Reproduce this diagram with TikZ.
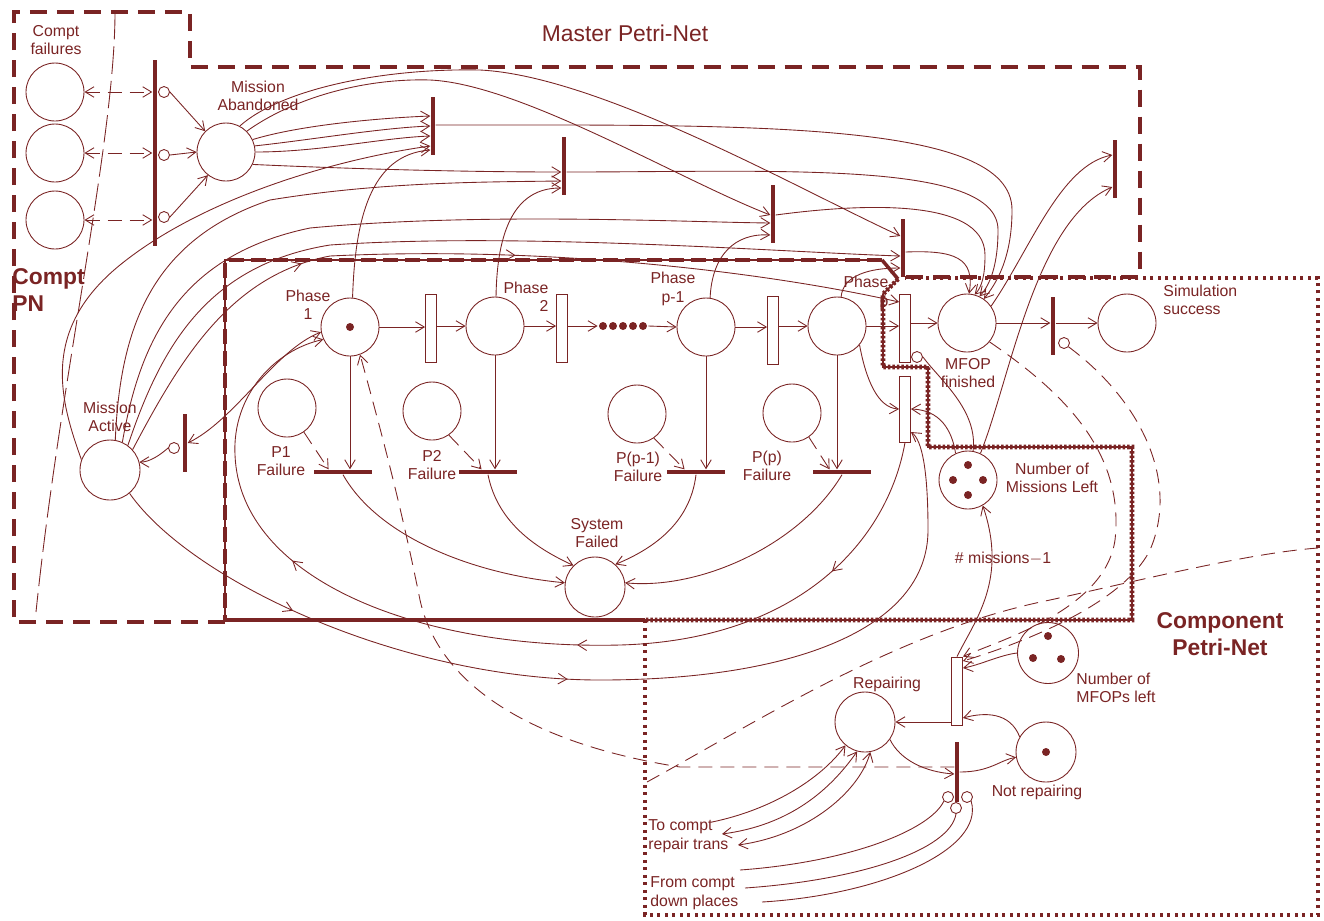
\documentclass[tikz,border=0pt]{standalone}
\usepackage{fontspec}
\setmainfont{Liberation Sans}
\usetikzlibrary{arrows.meta,decorations.markings}
\definecolor{mr}{RGB}{122,36,36}
\tikzset{
  place/.style={circle,draw,line width=0.5pt,minimum size=1.16cm,inner sep=0pt},
  tok/.style={circle,fill,draw=none,inner sep=0pt,minimum size=0.16cm},
  tbar/.style={rectangle,fill,draw=none,inner sep=0pt,minimum width=0.09cm,minimum height=1.16cm},
  hbar/.style={rectangle,draw,fill=white,line width=0.5pt,inner sep=0pt,minimum width=0.22cm,minimum height=1.36cm},
  fbar/.style={rectangle,fill,draw=none,inner sep=0pt,minimum width=1.16cm,minimum height=0.09cm},
  inh/.style={circle,draw,fill=white,line width=0.5pt,inner sep=0pt,minimum size=0.22cm},
  lab/.style={font=\fontsize{9}{10.5}\selectfont,align=center,inner sep=0pt},
  biglab/.style={font=\fontsize{13}{15}\selectfont\bfseries,align=center,inner sep=0pt},
  dsh/.style={dash pattern=on 0.28cm off 0.16cm},
  ldsh/.style={dash pattern=on 0.55cm off 0.14cm},
  midarr/.style={postaction={decorate,decoration={markings,mark=at position #1 with {\arrow{>}}}}},
}
\begin{document}
\begin{tikzpicture}[x=0.02cm,y=-0.02cm,color=mr,line width=0.5pt,>={Straight Barb[length=5pt,width=6pt]}]
\useasboundingbox (0,0) rectangle (1324,920);

% ---------- enclosing boxes ----------
\draw[line width=2pt,dash pattern=on 0.34cm off 0.2cm] (225,622) -- (14,622) -- (14,12) -- (190,12) -- (190,67) -- (1140,67) -- (1140,277) -- (905,277);
\draw[line width=0.9pt] (882,260) -- (225,260) -- (225,620);
\draw[line width=2.4pt,dash pattern=on 0.3cm off 0.14cm] (882,260) -- (225,260) -- (225,620);
\draw[line width=2pt] (225,620) -- (645,620);
\draw[line width=2pt] (882,260) -- (898,279);
\draw[line width=0.9pt] (898,279) -- (883,294) -- (883,367) -- (928,367) -- (928,447) -- (1132,447) -- (1132,620) -- (645,620);
\draw[line width=2.6pt,dash pattern=on 0.05cm off 0.04cm] (898,279) -- (883,294) -- (883,367) -- (928,367) -- (928,447) -- (1132,447) -- (1132,620) -- (645,620);
\draw[line width=1.9pt,dash pattern=on 0.06cm off 0.09cm] (645,620) -- (645,915) -- (1318,915) -- (1318,278) -- (905,278);

% ---------- nodes ----------
\node[place] (cf1) at (55,92) {};
\node[place] (cf2) at (55,153) {};
\node[place] (cf3) at (55,220) {};
\node[tbar,minimum height=3.74cm] (tc) at (155,153) {};
\node[inh] (i1) at (164,92) {};
\node[inh] (i2) at (164,155) {};
\node[inh] (i3) at (164,217) {};
\node[place] (mab) at (226,152) {};
\node[tbar] (T1) at (433,126) {};
\node[tbar] (T2) at (564,166) {};
\node[tbar] (T3) at (773,214) {};
\node[tbar] (T4) at (903,248) {};
\node[tbar] (T5) at (1115,169) {};

\node[place] (ph1) at (350,327) {};
\node[tok] at (ph1) {};
\node[hbar] (h1) at (431,328) {};
\node[place] (ph2) at (495,326) {};
\node[hbar] (h2) at (562,328) {};
\node[inner sep=0pt,minimum width=1.0cm,minimum height=0.2cm] (dots) at (623,326) {};
\foreach \x in {603,613,623,633,643} \node[tok] at (\x,326) {};
\node[place] (phq) at (706,327) {};
\node[hbar] (h3) at (773,330) {};
\node[place] (php) at (837,326) {};
\node[hbar] (h4) at (905,328) {};
\node[hbar,minimum height=1.32cm] (h5) at (905,409) {};
\node[inh] (ih) at (917,357) {};
\node[place] (mfop) at (967,323) {};
\node[tbar] (ts) at (1053,326) {};
\node[inh] (its) at (1064,343) {};
\node[place] (sim) at (1127,323) {};

\node[place] (f1) at (287,408) {};
\node[place] (f2) at (432,411) {};
\node[place] (fq) at (637,414) {};
\node[place] (fp) at (792,413) {};
\node[fbar] (b1) at (343,472) {};
\node[fbar] (b2) at (488,472) {};
\node[fbar] (bq) at (696,472) {};
\node[fbar] (bp) at (842,472) {};
\node[place,minimum size=1.2cm] (sf) at (595,587) {};
\node[place,minimum size=1.2cm] (ma) at (110,470) {};
\node[tbar] (tma) at (185,443) {};
\node[inh] (tmi) at (174,448) {};

\node[place] (nml) at (968,480) {};
\foreach \p in {(968,465),(953,480),(983,480),(968,495)} \node[tok] at \p {};
\node[place,minimum size=1.22cm] (nmf) at (1048,653) {};
\foreach \p in {(1048,636),(1033,658),(1061,659)} \node[tok] at \p {};
\node[place,minimum size=1.2cm] (rep) at (865,722) {};
\node[hbar] (hr) at (957,691) {};
\node[tbar,minimum height=1.2cm] (tr) at (957,772) {};
\node[inh] (ti1) at (948,797) {};
\node[inh] (ti2) at (967,797) {};
\node[inh] (ti3) at (956,808) {};
\node[place,minimum size=1.2cm] (nr) at (1046,752) {};
\node[tok] at (nr) {};

\coordinate (topA) at (115,12);
\coordinate (botA) at (36,612);
\coordinate (L2a) at (647,782);
\coordinate (L2b) at (1318,548);
\coordinate (tca) at (712,822);
\coordinate (tcb) at (722,834);
\coordinate (tcc) at (738,845);
\coordinate (fda) at (740,870);
\coordinate (fdb) at (745,888);
\coordinate (fdc) at (762,902);

% ---------- labels ----------
\node[lab] at (56,40) {Compt\\failures};
\node[lab] at (258,96) {Mission\\Abandoned};
\node[font=\fontsize{13}{15}\selectfont,inner sep=0pt] at (625,33) {Master Petri-Net};
\node[biglab,align=left,anchor=west] at (12,290) {Compt\\PN};
\node[biglab] at (1220,634) {Component\\Petri-Net};
\node[lab] at (308,305) {Phase\\1};
\node[lab,align=right] at (526,297) {Phase\\2};
\node[lab] at (673,289) {Phase\\p-1};
\node[lab,align=right] at (866,293) {Phase\\p};
\node[lab] at (968,373) {MFOP\\finished};
\node[lab,align=left,anchor=west] at (1163,300) {Simulation\\success};
\node[lab] at (110,417) {Mission\\Active};
\node[lab] at (281,461) {P1\\Failure};
\node[lab] at (432,465) {P2\\Failure};
\node[lab] at (638,467) {P(p-1)\\Failure};
\node[lab] at (767,466) {P(p)\\Failure};
\node[lab] at (597,533) {System\\Failed};
\node[lab] at (1052,478) {Number of\\Missions Left};
\node[lab] at (1003,558) {\# missions$-$1};
\node[lab,align=left,anchor=west] at (1076,688) {Number of\\MFOPs left};
\node[lab] at (887,684) {Repairing};
\node[lab] at (1037,792) {Not repairing};
\node[lab,align=left,anchor=west] at (648,836) {To compt\\repair trans};
\node[lab,align=left,anchor=west] at (650,893) {From compt\\down places};

% ---------- compt failures region ----------
\foreach \c in {cf1,cf2,cf3} \draw[<->,dsh] (\c.east) -- (\c.east -| tc.west);
\draw[->] (i1.east) -- (mab.135);
\draw[->] (i2.east) -- (mab.west);
\draw[->] (i3.east) -- (mab.232);
\draw[ldsh] (topA) .. controls (115,140) and (60,380) .. (botA);

% ---------- master net ----------
\draw[->] (mab.25) .. controls (300,125) and (380,118) .. (T1.west |- 0,116);
\draw[->] (mab.12) .. controls (310,140) and (380,128) .. (T1.west |- 0,126);
\draw[->] (mab.0) .. controls (320,152) and (380,138) .. (T1.west |- 0,136);
\draw[->] (mab.-25) .. controls (330,168) and (450,172) .. (T2.west |- 0,172);
\draw[->] (mab.45) .. controls (290,100) and (360,78) .. (430,80) .. controls (520,84) and (680,180) .. (T3.west |- 0,215);
\draw[->] (mab.62) .. controls (280,90) and (380,68) .. (480,70) .. controls (600,76) and (800,190) .. (T4.west |- 0,236);

\draw[->] (T1.east |- 0,125) .. controls (750,125) and (1012,120) .. (1012,210) .. controls (1012,260) and (995,285) .. (mfop.55);
\draw[->] (T2.east |- 0,172) .. controls (780,172) and (998,160) .. (998,230) .. controls (998,265) and (990,285) .. (mfop.65);
\draw[->] (T3.east |- 0,215) .. controls (850,205) and (985,195) .. (985,255) .. controls (985,275) and (982,287) .. (mfop.75);
\draw[->] (T4.east |- 0,252) .. controls (955,250) and (975,258) .. (mfop.86);

\draw[->] (ph1.85) .. controls (355,220) and (370,155) .. (T1.west |- 0,150);
\draw[->] (ph2.88) .. controls (497,230) and (515,188) .. (T2.west |- 0,188);
\draw[->] (phq.82) .. controls (712,255) and (735,233) .. (T3.west |- 0,235);
\draw[->] (php.82) .. controls (843,275) and (870,268) .. (T4.west |- 0,268);

\draw[->] (ma.160) .. controls (60,400) and (40,330) .. (120,265) .. controls (200,200) and (330,160) .. (T1.west |- 0,146);
\draw[->] (ma.80) .. controls (120,330) and (150,240) .. (270,200) .. controls (380,182) and (480,182) .. (T2.west |- 0,181);
\draw[->] (ma.66) .. controls (140,340) and (180,255) .. (310,228) .. controls (480,212) and (680,222) .. (T3.west |- 0,223);
\draw[->] (ma.54) .. controls (160,350) and (205,265) .. (330,245) .. controls (520,232) and (780,252) .. (T4.west |- 0,256);
\draw[->,midarr=0.3,midarr=0.55] (ma.42) .. controls (180,360) and (230,275) .. (330,256) .. controls (560,245) and (780,275) .. (h4.west |- 0,302);

\draw[->] (mfop.35) .. controls (1030,250) and (1060,165) .. (T5.west |- 0,155);
\draw[->] (nml.65) .. controls (1010,380) and (1035,220) .. (T5.west |- 0,187);

% ---------- phase row ----------
\draw[->] (ph1.east) -- (h1.west |- ph1.east);
\draw[->] (h1.east |- ph2.west) -- (ph2.west);
\draw[->] (ph2.east) -- (h2.west |- ph2.east);
\draw[->] (h2.east |- dots.west) -- (dots.west);
\draw[->] (dots.east) -- (phq.west);
\draw[->] (phq.east) -- (h3.west |- phq.east);
\draw[->] (h3.east |- php.west) -- (php.west);
\draw[->] (php.east) -- (h4.west |- php.east);
\draw[->] (h4.east |- mfop.west) -- (mfop.west);
\draw[->] (mfop.east) -- (ts.west |- mfop.east);
\draw[->] (ts.east |- sim.west) -- (sim.west);

% ---------- failures ----------
\draw[->] (ph1.south) -- (ph1.south |- b1.north);
\draw[->] (ph2.south) -- (ph2.south |- b2.north);
\draw[->] (phq.south) -- (phq.south |- bq.north);
\draw[->] (php.south) -- (php.south |- bp.north);
\draw[->,dsh] (f1.-55) -- ([xshift=0.3cm]b1.north west);
\draw[->,dsh] (f2.-55) -- ([xshift=0.46cm]b2.north west);
\draw[->,dsh] (fq.-55) -- ([xshift=0.36cm]bq.north west);
\draw[->,dsh] (fp.-55) -- ([xshift=0.34cm]bp.north west);
\draw[->] (b1.south) .. controls (380,540) and (480,575) .. (sf.172);
\draw[->] (b2.south) .. controls (498,525) and (540,550) .. (sf.135);
\draw[->] (bq.south) .. controls (690,525) and (650,550) .. (sf.48);
\draw[->] (bp.south) .. controls (800,545) and (700,590) .. (sf.8);

% ---------- reset transition and mission active ----------
\draw[->] (php.-40) .. controls (866,380) and (878,408) .. (h5.west);
\draw[->] (nml.115) .. controls (952,430) and (940,410) .. (h5.east);
\draw (nml.80) .. controls (978,410) and (940,380) .. (ih.east);
\draw[->,midarr=0.2,midarr=0.48] (ma.-50) .. controls (190,580) and (400,680) .. (600,680) .. controls (790,680) and (928,630) .. (928,530) .. controls (928,470) and (922,440) .. (h5.east |- 0,432);
\draw[->,midarr=0.15,midarr=0.42,midarr=0.72] (h5.south) .. controls (888,540) and (800,640) .. (620,645) .. controls (420,650) and (240,580) .. (235,455) .. controls (232,395) and (275,350) .. (ph1.205);
\draw[<->] (tma.east) .. controls (235,420) and (275,350) .. (ph1.190);
\draw[->] (tmi.west) .. controls (160,455) and (150,462) .. (ma.15);

% ---------- component net ----------
\draw[->,dsh] (tr.west |- 0,767) -- (680,767) .. controls (540,745) and (440,690) .. (420,600) .. controls (400,500) and (378,420) .. (ph1.-70);
\draw[dsh] (L2a) .. controls (760,720) and (900,630) .. (1050,600) .. controls (1150,578) and (1250,553) .. (L2b);
\draw[->,dsh] (mfop.-40) .. controls (1060,390) and (1125,450) .. (1115,540) .. controls (1105,610) and (1000,640) .. (hr.north east);
\draw[->,dsh] (its.-40) .. controls (1140,400) and (1180,480) .. (1150,550) .. controls (1120,610) and (1000,650) .. (hr.east |- 0,661);
\draw[->] (nmf.west) .. controls (1000,655) and (980,665) .. (hr.east |- 0,668);
\draw[->] (hr.north) .. controls (975,620) and (1008,580) .. (nml.-60);
\draw[->] (hr.west |- rep.east) -- (rep.east);
\draw[->] (nr.150) .. controls (1010,712) and (985,712) .. (hr.east |- 0,718);
\draw[->] (rep.-35) .. controls (900,760) and (925,772) .. (tr.west |- 0,774);
\draw[->] (tr.east |- 0,772) .. controls (990,772) and (1000,760) .. (nr.190);
\draw[->] (tca) .. controls (770,810) and (820,780) .. (rep.230);
\draw[<->] (tcb) .. controls (790,825) and (830,790) .. (rep.255);
\draw[<->] (tcc) .. controls (810,835) and (860,790) .. (rep.280);
\draw (fda) .. controls (850,862) and (930,830) .. (ti1.south west);
\draw (fdb) .. controls (860,880) and (950,850) .. (ti3.south);
\draw (fdc) .. controls (880,895) and (985,850) .. (ti2.south east);
\end{tikzpicture}
\end{document}
